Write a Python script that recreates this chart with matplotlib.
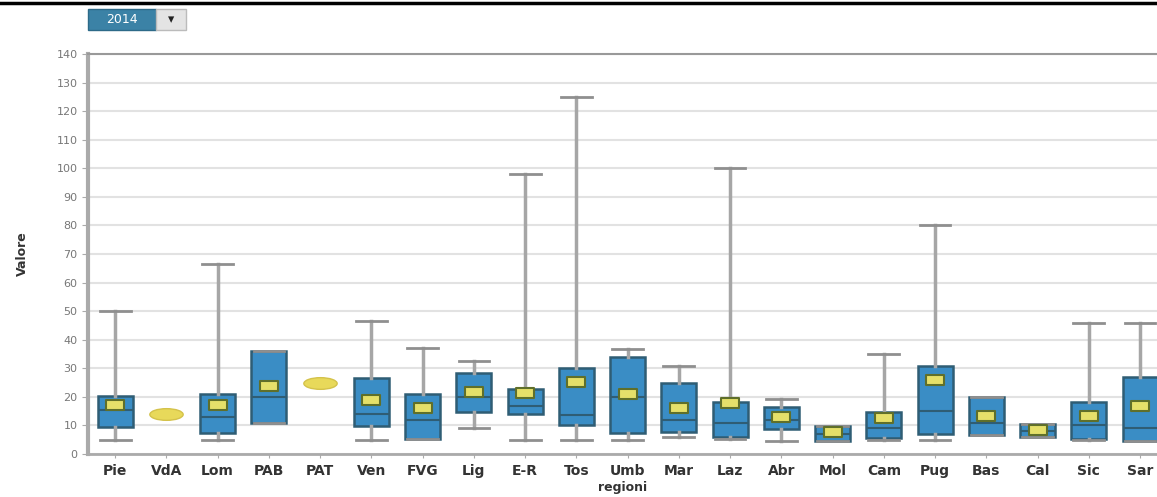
import matplotlib
matplotlib.use('Agg')
import matplotlib.pyplot as plt
from matplotlib.lines import Line2D
from matplotlib.patches import Rectangle
from matplotlib.path import Path
from matplotlib.transforms import Affine2D

# regioni e statistiche
regioni = ['Pie', 'VdA', 'Lom', 'PAB', 'PAT', 'Ven', 'FVG', 'Lig', 'E-R', 'Tos', 'Umb',
           'Mar', 'Laz', 'Abr', 'Mol', 'Cam', 'Pug', 'Bas', 'Cal', 'Sic', 'Sar']
minimo = [5, 14, 5, 10.8, 24.8, 5, 5.2, 9.1, 5, 5, 5, 6, 5.2, 4.7, 4.7, 5, 5, 6.6, 6, 5, 4.7]
q1 = [9.6, 14, 7.3, 10.8, 24.8, 9.9, 5.2, 14.7, 14, 10.1, 7.5, 7.8, 6, 8.8, 4.7, 5.7, 7, 6.6, 6, 5.2, 4.7]
mediana = [15.5, 14, 13, 20, 24.8, 14, 12, 20, 16.8, 13.5, 20, 12, 11, 12, 7, 9, 15, 11, 8, 10, 9]
q3 = [20.3, 14, 21, 36.2, 24.8, 26.5, 21, 28.3, 22.7, 30, 34, 24.8, 18.3, 16.6, 9.9, 14.6, 30.8, 20, 10.5, 18.2, 27]
massimo = [50, 14, 66.5, 36.2, 24.8, 46.7, 37, 32.7, 98, 125, 36.9, 30.8, 100, 19.2, 9.9, 34.9, 80, 20, 10.5, 46, 46]
media = [17, 14, 17, 23.8, 24.8, 18.9, 16.2, 21.8, 21.3, 25.3, 21, 16.2, 17.8, 13, 7.7, 12.6, 25.9, 13.4, 8.4, 13.3, 16.9]
anno = '2014'

stats = []
for i in range(len(regioni)):
    stats.append({'label': regioni[i], 'whislo': minimo[i], 'q1': q1[i], 'med': mediana[i],
                  'q3': q3[i], 'whishi': massimo[i], 'mean': media[i]})

fig = plt.figure(figsize=(11.57, 4.97), dpi=100)
ax = fig.add_axes([88/1157, 43/497, 1 - 88/1157, 400/497])

# griglia orizzontale
ax.set_ylim(0, 140)
ax.set_yticks(range(0, 141, 10))
ax.yaxis.grid(True, color='#e2e2e2', lw=1.5)
ax.set_axisbelow(True)

singoli = [i for i in range(len(regioni)) if q1[i] == q3[i]]
multi = [i for i in range(len(regioni)) if q1[i] != q3[i]]

# marker della media: rettangolo largo
rett = Path.unit_rectangle().transformed(Affine2D().translate(-0.5, -0.5).scale(1, 0.6))

ax.bxp([stats[i] for i in multi], positions=multi, widths=0.68, patch_artist=True,
       showmeans=True, showfliers=False,
       boxprops=dict(facecolor='#3a8dc5', edgecolor='#2f5d74', lw=1.8),
       medianprops=dict(color='#2f5d74', lw=1.5),
       whiskerprops=dict(color='#a6a6a6', lw=2.5),
       capprops=dict(color='#8f8f8f', lw=2),
       capwidths=0.6,
       meanprops=dict(marker=rett, markersize=13, markerfacecolor='#e5e06a',
                      markeredgecolor='#5f6f2a', markeredgewidth=1.5))

# valori singoli: ellisse gialla
ell = Path.unit_circle().transformed(Affine2D().scale(1, 0.35))
ax.plot(singoli, [media[i] for i in singoli], ls='none', marker=ell, markersize=24,
        markerfacecolor='#e8d95a', markeredgecolor='#d4c24a', markeredgewidth=1)

ax.set_xlim(-0.53, 20.33)
ax.set_xticks(range(len(regioni)))
ax.set_xticklabels(regioni, fontsize=10, fontweight='bold', color='#333333')
ax.tick_params(axis='x', length=3, color='#aaaaaa', pad=4)
ax.tick_params(axis='y', length=4, color='#aaaaaa', labelsize=8, labelcolor='#777777')

ax.spines['right'].set_visible(False)
ax.spines['top'].set_color('#999999')
ax.spines['top'].set_linewidth(1.5)
ax.spines['left'].set_color('#aaaaaa')
ax.spines['left'].set_linewidth(3)
ax.spines['bottom'].set_color('#aaaaaa')
ax.spines['bottom'].set_linewidth(2)

ax.set_xlabel('regioni', fontsize=9, fontweight='bold', color='#333333', labelpad=2)
ax.set_ylabel('Valore', fontsize=9, fontweight='bold', color='#333333', labelpad=20)

# linea nera in alto e menu anno
fig.add_artist(Line2D([0, 1], [1 - 3/497, 1 - 3/497], color='black', lw=2.5))
fig.add_artist(Rectangle((88/1157, 1 - 30/497), 68/1157, 21/497, facecolor='#3b82a6',
                         edgecolor='#2d6a88', lw=1))
fig.add_artist(Rectangle((156/1157, 1 - 30/497), 30/1157, 21/497, facecolor='#e4e4e4',
                         edgecolor='#bbbbbb', lw=1))
fig.text(122/1157, 1 - 19.5/497, anno, color='white', fontsize=9, ha='center', va='center')
fig.text(171/1157, 1 - 19.5/497, '\u25be', color='#222222', fontsize=9, ha='center', va='center')

fig.savefig('out.png', dpi=100)
